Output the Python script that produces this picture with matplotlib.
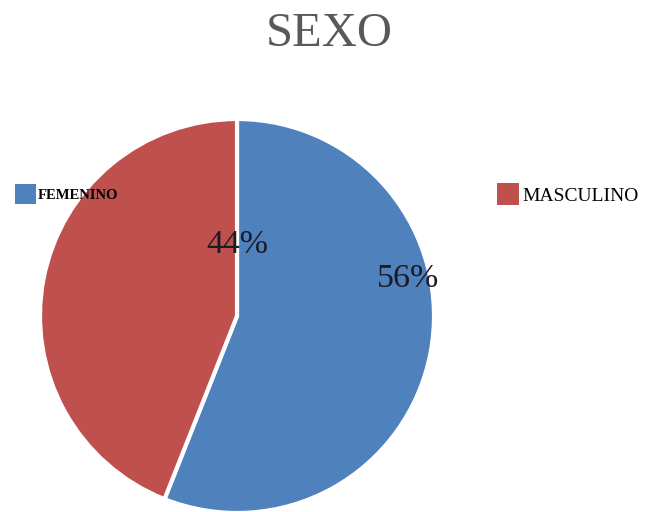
import matplotlib
matplotlib.use("Agg")
import matplotlib.pyplot as plt

# Distribución por sexo
categorias = ["FEMENINO", "MASCULINO"]
porcentajes = [56, 44]
colores = ["#4F81BD", "#C0504D"]

plt.rcParams['font.family'] = ['Liberation Serif', 'DejaVu Serif']

fig = plt.figure(figsize=(6.49, 5.12), dpi=100)
fig.patch.set_facecolor("white")

# pie sized so that radius 1 spans ~197 px, centred at (237, 316) px
lim = 1.02
w_px = 2 * 197 * lim
ax = fig.add_axes([(237 - w_px / 2) / 649, (512 - 316 - w_px / 2) / 512,
                   w_px / 649, w_px / 512])
wedges, _ = ax.pie(porcentajes, colors=colores, startangle=90, counterclock=False,
                   radius=1, wedgeprops=dict(edgecolor="white", linewidth=3))
ax.set_xlim(-lim, lim)
ax.set_ylim(-lim, lim)
ax.set_aspect("equal")
ax.axis("off")

# etiquetas de porcentaje
pos_etiquetas = [(0.87, 0.19), (0.0, 0.36)]
for val, (x, y) in zip(porcentajes, pos_etiquetas):
    ax.text(x, y, f"{val}%", ha="center", va="center", fontsize=24.5,
            color="#1c1c28")

fig.text(329 / 649, 1 - 34 / 512, "SEXO", ha="center", va="center",
         fontsize=35, color="#595959")

# leyendas separadas a cada lado
leg1 = fig.legend([wedges[0]], [categorias[0]], loc="upper left",
                  bbox_to_anchor=(15 / 649, 1 - 184 / 512), frameon=False,
                  prop=dict(size=10.5, weight="bold"), handlelength=1.44,
                  handleheight=1.75, handletextpad=0.12, borderpad=0,
                  borderaxespad=0)
leg2 = fig.legend([wedges[1]], [categorias[1]], loc="upper left",
                  bbox_to_anchor=(497 / 649, 1 - 183 / 512), frameon=False,
                  prop=dict(size=14), handlelength=1.13, handleheight=1.38,
                  handletextpad=0.2, borderpad=0, borderaxespad=0)
for leg in (leg1, leg2):
    for h in leg.legend_handles:
        h.set_edgecolor("none")

fig.savefig("out.png", dpi=100)
